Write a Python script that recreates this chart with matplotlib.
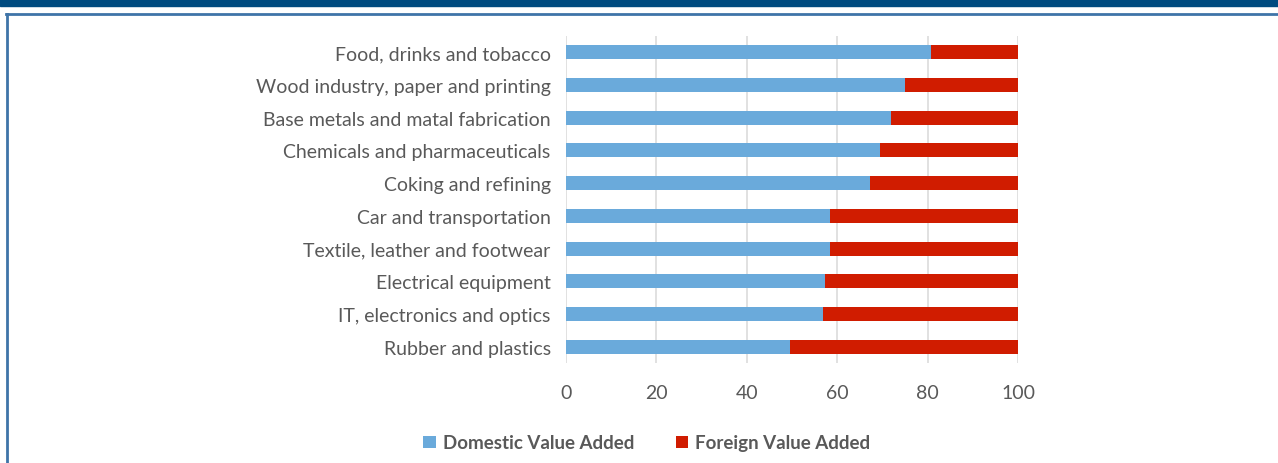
import numpy as np
import matplotlib.pyplot as plt
from matplotlib.patches import Rectangle
from matplotlib.lines import Line2D

# 数据
sectors = ['Food, drinks and tobacco', 'Wood industry, paper and printing',
           'Base metals and matal fabrication', 'Chemicals and pharmaceuticals',
           'Coking and refining', 'Car and transportation',
           'Textile, leather and footwear', 'Electrical equipment',
           'IT, electronics and optics', 'Rubber and plastics']
domestic = [80.8, 75.1, 72.0, 69.4, 67.3, 58.4, 58.4, 57.3, 56.9, 49.5]
foreign = [100 - d for d in domestic]

plt.rcParams['font.family'] = ['Lato', 'DejaVu Sans']

fig = plt.figure(figsize=(12.78, 4.64), dpi=100)
W, H = 1278, 464

# 外框
fig.patches.append(Rectangle((0, 1 - 7 / H), 1, 7 / H, transform=fig.transFigure,
                             color='#004b80', zorder=0))
fig.lines.append(Line2D([6 / W, 1], [1 - 14.5 / H, 1 - 14.5 / H], transform=fig.transFigure,
                        color='#3f74a8', linewidth=2))
fig.lines.append(Line2D([6.5 / W, 6.5 / W], [0, 1 - 14.5 / H], transform=fig.transFigure,
                        color='#3f74a8', linewidth=2))

ax = fig.add_axes([566 / W, 1 - 364 / H, (1018 - 566) / W, (364 - 37) / H])
y = np.arange(len(sectors))
ax.barh(y, domestic, height=0.43, color='#6aaadb', label='Domestic Value Added', zorder=3)
ax.barh(y, foreign, left=domestic, height=0.43, color='#d01c00', label='Foreign Value Added', zorder=3)

ax.set_xlim(0, 100)
ax.set_ylim(len(sectors) - 0.5, -0.5)
ax.set_xticks(np.arange(0, 101, 20))
ax.set_yticks(y)
ax.set_yticklabels(sectors)
ax.grid(axis='x', color='#dedede', linewidth=1.3, zorder=0)
for s in ax.spines.values():
    s.set_visible(False)
ax.tick_params(axis='both', length=0, labelsize=14, colors='#595959')
ax.tick_params(axis='x', pad=15)
ax.tick_params(axis='y', pad=11)

leg = fig.legend(loc='center', bbox_to_anchor=(647 / W, 1 - 444 / H), ncol=2, frameon=False,
                 handlelength=0.65, handleheight=0.65, handletextpad=0.4, columnspacing=2.2,
                 prop={'weight': 'bold', 'size': 13.5})
for t in leg.get_texts():
    t.set_color('#595959')

fig.savefig('out.png', dpi=100)
